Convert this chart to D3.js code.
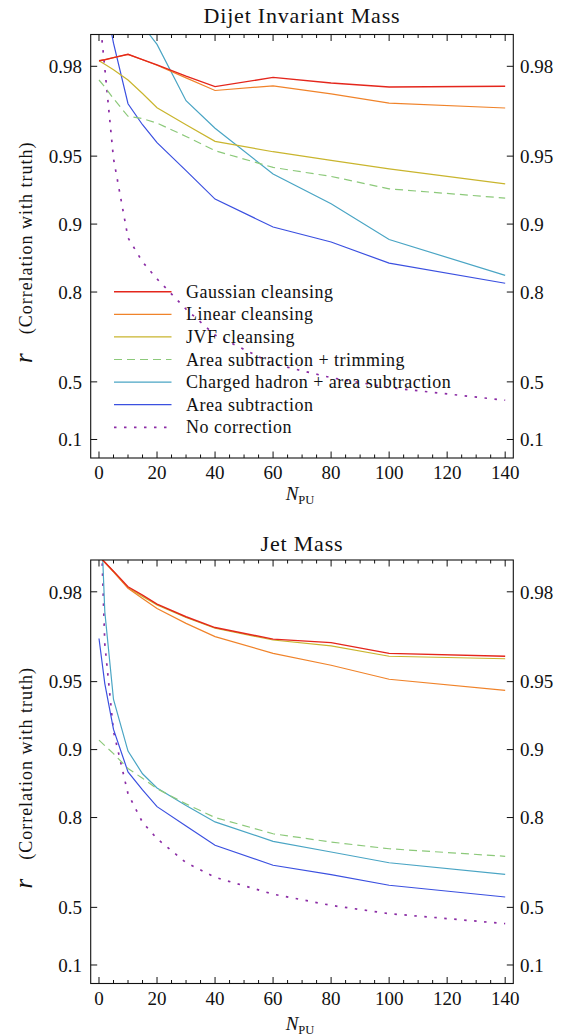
<!DOCTYPE html>
<html>
<head>
<meta charset="utf-8">
<script src="https://cdn.jsdelivr.net/npm/d3@7"></script>
<style>
body { margin: 0; background: #fff; }
svg text { font-family: "Liberation Serif", "Times New Roman", serif; fill: #111; }
</style>
</head>
<body>
<div id="chart"></div>
<script>
// pile-up values where each curve was sampled
var npu = [0, 2, 5, 10, 15, 20, 30, 40, 60, 80, 100, 140];

var methods = ["Gaussian cleansing", "Linear cleansing", "JVF cleansing",
    "Area subtraction + trimming", "Charged hadron + area subtraction",
    "Area subtraction", "No correction"];

// dijet invariant mass, correlation r
var dijetGauss   = [0.9811, 0.9813, 0.9817, 0.9823, 0.9813, 0.9803, 0.9779, 0.9754, 0.9776, 0.9763, 0.9753, 0.9755];
var dijetLinear  = [0.9811, 0.9813, 0.9817, 0.9823, 0.9813, 0.9802, 0.9775, 0.9744, 0.9756, 0.9735, 0.9709, 0.9694];
var dijetJVF     = [0.9811, 0.9804, 0.9793, 0.9770, 0.9736, 0.9695, 0.9637, 0.9570, 0.9522, 0.9478, 0.9431, 0.9337];
var dijetTrim    = [0.9770, 0.9753, 0.9722, 0.9667, 0.9659, 0.9643, 0.9591, 0.9527, 0.9439, 0.9385, 0.9302, 0.9233];
var dijetCharged = [0.9950, 0.9940, 0.9930, 0.9891, 0.9868, 0.9840, 0.9716, 0.9624, 0.9400, 0.9187, 0.8830, 0.8312];
var dijetArea    = [0.9920, 0.9900, 0.9842, 0.9707, 0.9637, 0.9564, 0.9420, 0.9225, 0.8970, 0.8800, 0.8510, 0.8172];
var dijetNone    = [0.9887, 0.9796, 0.9487, 0.8850, 0.8530, 0.8250, 0.7620, 0.6900, 0.5840, 0.5210, 0.4700, 0.3970];

// single jet mass
var jetGauss   = [0.9861, 0.9852, 0.9838, 0.9810, 0.9793, 0.9773, 0.9742, 0.9712, 0.9676, 0.9664, 0.9625, 0.9614];
var jetLinear  = [0.9861, 0.9852, 0.9837, 0.9807, 0.9786, 0.9763, 0.9724, 0.9684, 0.9625, 0.9577, 0.9512, 0.9453];
var jetJVF     = [0.9861, 0.9852, 0.9837, 0.9808, 0.9790, 0.9771, 0.9740, 0.9710, 0.9673, 0.9653, 0.9614, 0.9604];
var jetTrim    = [0.9092, 0.9040, 0.8958, 0.8787, 0.8660, 0.8510, 0.8260, 0.8000, 0.7640, 0.7432, 0.7250, 0.7030];
var jetCharged = [0.9946, 0.9755, 0.9400, 0.8985, 0.8720, 0.8520, 0.8230, 0.7909, 0.7450, 0.7157, 0.6829, 0.6427];
var jetArea    = [0.9678, 0.9490, 0.9186, 0.8744, 0.8490, 0.8210, 0.7820, 0.7347, 0.6746, 0.6422, 0.6010, 0.5502];
var jetNone    = [0.9946, 0.9660, 0.9170, 0.8430, 0.7900, 0.7520, 0.6830, 0.6320, 0.5630, 0.5100, 0.4670, 0.4100];

var yTicks = [0.1, 0.5, 0.8, 0.9, 0.95, 0.98];
var xTicks = [0, 20, 40, 60, 80, 100, 120, 140];
var xMinor = [5, 10, 15, 25, 30, 35, 45, 50, 55, 65, 70, 75, 85, 90, 95, 105, 110, 115, 125, 130, 135];

var colors = ["#e4261c", "#f0832a", "#c9b52e", "#8cc97a", "#4aa5c4", "#3b50e0", "#8b2ca5"];
var dashes = [null, null, null, "8,5", null, null, "2.5,7.5"];
var widths = [1.4, 1.2, 1.2, 1.2, 1.2, 1.2, 1.7];

var panels = [
    {title: "Dijet Invariant Mass", top: 34.5, titleY: 22.7, tickY: 478.5, labelY: 500,
     series: [dijetGauss, dijetLinear, dijetJVF, dijetTrim, dijetCharged, dijetArea, dijetNone], legend: true},
    {title: "Jet Mass", top: 560, titleY: 550.7, tickY: 1005, labelY: 1030,
     series: [jetGauss, jetLinear, jetJVF, jetTrim, jetCharged, jetArea, jetNone], legend: false}
];

var width = 569, height = 1036;
var left = 90.7, right = 513.3, plotH = 423.5;
// limits of the r axis (axis is linear in -log10(1 - r))
var rHigh = 0.98554, rLow = -0.087;

var svg = d3.select('#chart')
    .append('svg')
    .attr('width', width)
    .attr('height', height);

var x = d3.scaleLinear()
    .domain([-2.86, 142.8])
    .range([left, right]);

panels.forEach(function(p, i) {
    var top = p.top, bottom = p.top + plotH;
    var y = d3.scaleLog()
        .domain([1 - rLow, 1 - rHigh])
        .range([bottom, top]);
    var ry = function(r) { return y(1 - r); };

    svg.append('clipPath').attr('id', 'clip' + i)
        .append('rect')
        .attr('x', left).attr('y', top)
        .attr('width', right - left).attr('height', plotH);

    var line = d3.line()
        .x(function(d) { return x(d[0]); })
        .y(function(d) { return ry(d[1]); });

    var g = svg.append('g').attr('clip-path', 'url(#clip' + i + ')');
    // draw last series first so Gaussian ends on top
    for (var k = p.series.length - 1; k >= 0; k--) {
        var vals = p.series[k];
        g.append('path')
            .datum(npu.map(function(n, j) { return [n, vals[j]]; }))
            .attr('d', line)
            .attr('fill', 'none')
            .attr('stroke', colors[k])
            .attr('stroke-width', widths[k])
            .attr('stroke-dasharray', dashes[k]);
    }

    // frame
    svg.append('rect')
        .attr('x', left).attr('y', top)
        .attr('width', right - left).attr('height', plotH)
        .attr('fill', 'none').attr('stroke', '#111').attr('stroke-width', 1.1);

    // x ticks, inward, bottom and top
    var ax = svg.append('g').attr('stroke', '#111').attr('stroke-width', 1);
    xTicks.forEach(function(v) {
        ax.append('line').attr('x1', x(v)).attr('x2', x(v)).attr('y1', bottom).attr('y2', bottom - 6.5);
        ax.append('line').attr('x1', x(v)).attr('x2', x(v)).attr('y1', top).attr('y2', top + 6.5);
    });
    xMinor.forEach(function(v) {
        ax.append('line').attr('x1', x(v)).attr('x2', x(v)).attr('y1', bottom).attr('y2', bottom - 3.5);
        ax.append('line').attr('x1', x(v)).attr('x2', x(v)).attr('y1', top).attr('y2', top + 3.5);
    });
    svg.selectAll('.xlab' + i)
        .data(xTicks).enter().append('text')
        .attr('x', function(d) { return x(d); })
        .attr('y', p.tickY)
        .attr('text-anchor', 'middle')
        .attr('font-size', '19px')
        .text(function(d) { return d; });

    // y ticks, inward, both sides with labels
    yTicks.forEach(function(v) {
        ax.append('line').attr('x1', left).attr('x2', left + 6.5).attr('y1', ry(v)).attr('y2', ry(v));
        ax.append('line').attr('x1', right).attr('x2', right - 6.5).attr('y1', ry(v)).attr('y2', ry(v));
        svg.append('text')
            .attr('x', 82).attr('y', ry(v) + 6.8)
            .attr('text-anchor', 'end').attr('font-size', '19px')
            .text(v);
        svg.append('text')
            .attr('x', 520).attr('y', ry(v) + 6.8)
            .attr('font-size', '19px')
            .text(v);
    });

    // title
    svg.append('text')
        .attr('x', (left + right) / 2).attr('y', p.titleY)
        .attr('text-anchor', 'middle')
        .attr('font-size', '22px')
        .attr('letter-spacing', '0.8px')
        .text(p.title);

    // x label N_PU
    var xl = svg.append('text')
        .attr('x', 300).attr('y', p.labelY)
        .attr('text-anchor', 'middle')
        .attr('font-size', '19px');
    xl.append('tspan').attr('font-style', 'italic').text('N');
    xl.append('tspan').attr('font-size', '12.5px').attr('dy', 4).text('PU');

    // y label
    var yc = (top + bottom) / 2 + 6;
    var yl = svg.append('text')
        .attr('transform', 'translate(32,' + yc + ') rotate(-90)')
        .attr('text-anchor', 'middle');
    yl.append('tspan').attr('font-style', 'italic').attr('font-size', '25px').text('r');
    yl.append('tspan').attr('font-size', '18px').attr('letter-spacing', '1px').text('\u2003(Correlation with truth)');

    if (p.legend) {
        var lg = svg.append('g');
        methods.forEach(function(m, k) {
            var ly = 291.7 + k * 22.6;
            lg.append('line')
                .attr('x1', 114).attr('x2', 171.5)
                .attr('y1', ly).attr('y2', ly)
                .attr('stroke', colors[k])
                .attr('stroke-width', widths[k])
                .attr('stroke-dasharray', dashes[k]);
            lg.append('text')
                .attr('x', 186).attr('y', ly + 6)
                .attr('font-size', '18px')
                .attr('letter-spacing', '0.5px')
                .text(m);
        });
    }
});
</script>
</body>
</html>
